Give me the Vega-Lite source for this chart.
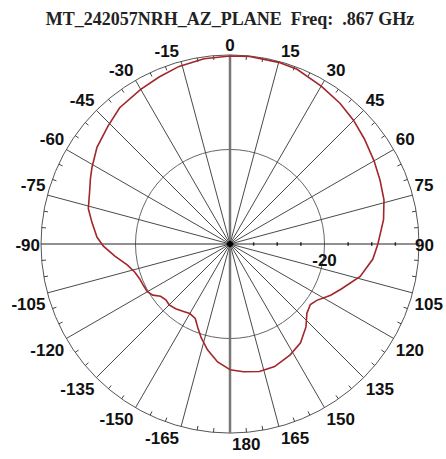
{
  "$schema": "https://vega.github.io/schema/vega-lite/v6.json",
  "width": 378,
  "height": 378,
  "autosize": {"type": "none"},
  "padding": {"left": 41, "top": 55, "right": 27, "bottom": 26},
  "background": "white",
  "config": {"view": {"stroke": null}},
  "title": {
    "text": "MT_242057NRH_AZ_PLANE\u00a0\u00a0Freq:\u00a0\u00a0.867 GHz",
    "font": "Liberation Serif",
    "fontSize": 18,
    "fontWeight": "bold",
    "color": "#222222",
    "anchor": "middle",
    "frame": "group",
    "baseline": "alphabetic",
    "offset": 6,
    "dy": 12
  },
  "datasets": {
    "spokes": [{"a":-165},{"a":-150},{"a":-135},{"a":-120},{"a":-105},{"a":-75},{"a":-60},{"a":-45},{"a":-30},{"a":-15},{"a":15},{"a":30},{"a":45},{"a":60},{"a":75},{"a":105},{"a":120},{"a":135},{"a":150},{"a":165}],
    "ticks": [{"a":-175},{"a":-170},{"a":-160},{"a":-155},{"a":-145},{"a":-140},{"a":-130},{"a":-125},{"a":-115},{"a":-110},{"a":-100},{"a":-95},{"a":-85},{"a":-80},{"a":-70},{"a":-65},{"a":-55},{"a":-50},{"a":-40},{"a":-35},{"a":-25},{"a":-20},{"a":-10},{"a":-5},{"a":5},{"a":10},{"a":20},{"a":25},{"a":35},{"a":40},{"a":50},{"a":55},{"a":65},{"a":70},{"a":80},{"a":85},{"a":95},{"a":100},{"a":110},{"a":115},{"a":125},{"a":130},{"a":140},{"a":145},{"a":155},{"a":160},{"a":170},{"a":175}],
    "labels": [{"a":-165},{"a":-150},{"a":-135},{"a":-120},{"a":-105},{"a":-90},{"a":-75},{"a":-60},{"a":-45},{"a":-30},{"a":-15},{"a":0},{"a":15},{"a":30},{"a":45},{"a":60},{"a":75},{"a":90},{"a":105},{"a":120},{"a":135},{"a":150},{"a":165},{"a":180}],
    "dbticks": [{"r": 5}, {"r": 10}, {"r": 15}, {"r": 25}, {"r": 30}, {"r": 35}],
    "pattern": [
      {"angle":-180,"db":-13.4},{"angle":-174,"db":-14.9},{"angle":-168,"db":-17.1},{"angle":-163,"db":-19.2},
      {"angle":-159,"db":-21.0},{"angle":-155,"db":-22.6},{"angle":-150,"db":-23.0},{"angle":-146,"db":-22.7},
      {"angle":-140,"db":-22.1},{"angle":-135,"db":-21.8},{"angle":-131,"db":-22.0},{"angle":-127,"db":-21.6},
      {"angle":-123.5,"db":-20.4},{"angle":-120,"db":-19.8},{"angle":-116,"db":-19.7},{"angle":-111,"db":-19.5},
      {"angle":-106.5,"db":-19.0},{"angle":-101.5,"db":-17.8},{"angle":-96,"db":-15.5},{"angle":-91,"db":-13.2},
      {"angle":-87,"db":-11.8},{"angle":-81,"db":-10.4},{"angle":-76,"db":-9.1},{"angle":-69,"db":-8.2},
      {"angle":-65,"db":-7.4},{"angle":-61,"db":-6.6},{"angle":-54,"db":-5.2},{"angle":-46,"db":-4.1},
      {"angle":-39,"db":-2.9},{"angle":-30,"db":-2.2},{"angle":-23,"db":-1.6},{"angle":-16,"db":-0.9},
      {"angle":-8,"db":-0.4},{"angle":0,"db":-0.2},{"angle":6,"db":-0.1},{"angle":15,"db":-0.2},
      {"angle":21,"db":-0.4},{"angle":30,"db":-1.4},{"angle":38,"db":-2.2},{"angle":45,"db":-3.0},
      {"angle":52,"db":-3.9},{"angle":60,"db":-4.8},{"angle":67,"db":-5.5},{"angle":74,"db":-6.1},
      {"angle":81,"db":-7.1},{"angle":90,"db":-8.7},{"angle":96,"db":-9.6},{"angle":104,"db":-11.6},
      {"angle":112,"db":-14.6},{"angle":117,"db":-16.1},{"angle":123,"db":-18.1},{"angle":127,"db":-18.7},
      {"angle":132,"db":-18.1},{"angle":137.5,"db":-16.2},{"angle":144.5,"db":-14.3},{"angle":151.5,"db":-13.3},
      {"angle":160,"db":-12.4},{"angle":167,"db":-12.3},{"angle":174,"db":-12.8},{"angle":180,"db":-13.4}
    ]
  },
  "layer": [
    {
      "data": {"values": [{"x": 0, "y": 0}]},
      "mark": {"type": "point", "shape": "circle", "filled": false, "stroke": "#555555", "strokeWidth": 1, "size": 142884, "opacity": 1},
      "encoding": {
        "x": {"field": "x", "type": "quantitative", "scale": {"domain": [-40, 40], "nice": false, "zero": false}, "axis": null},
        "y": {"field": "y", "type": "quantitative", "scale": {"domain": [-40, 40], "nice": false, "zero": false}, "axis": null}
      }
    },
    {
      "data": {"values": [{"x": 0, "y": 0}]},
      "mark": {"type": "point", "shape": "circle", "filled": false, "stroke": "#666666", "strokeWidth": 1, "size": 35721, "opacity": 1},
      "encoding": {
        "x": {"field": "x", "type": "quantitative"},
        "y": {"field": "y", "type": "quantitative"}
      }
    },
    {
      "data": {"name": "spokes"},
      "transform": [
        {"calculate": "0", "as": "x0"},
        {"calculate": "0", "as": "y0"},
        {"calculate": "40*sin(datum.a*PI/180)", "as": "xe"},
        {"calculate": "40*cos(datum.a*PI/180)", "as": "ye"}
      ],
      "mark": {"type": "rule", "color": "#4a4a4a", "strokeWidth": 1},
      "encoding": {
        "x": {"field": "x0", "type": "quantitative"},
        "y": {"field": "y0", "type": "quantitative"},
        "x2": {"field": "xe"},
        "y2": {"field": "ye"}
      }
    },
    {
      "data": {"name": "ticks"},
      "transform": [
        {"calculate": "39.1*sin(datum.a*PI/180)", "as": "xa"},
        {"calculate": "39.1*cos(datum.a*PI/180)", "as": "ya"},
        {"calculate": "40*sin(datum.a*PI/180)", "as": "xb"},
        {"calculate": "40*cos(datum.a*PI/180)", "as": "yb"}
      ],
      "mark": {"type": "rule", "color": "#444444", "strokeWidth": 1},
      "encoding": {
        "x": {"field": "xa", "type": "quantitative"},
        "y": {"field": "ya", "type": "quantitative"},
        "x2": {"field": "xb"},
        "y2": {"field": "yb"}
      }
    },
    {
      "data": {"values": [{"xa": -40, "xb": 40, "y": 0}]},
      "mark": {"type": "rule", "color": "#222222", "strokeWidth": 1},
      "encoding": {
        "x": {"field": "xa", "type": "quantitative"},
        "x2": {"field": "xb"},
        "y": {"field": "y", "type": "quantitative"}
      }
    },
    {
      "data": {"values": [{"ya": -40, "yb": 40, "x": 0}]},
      "mark": {"type": "rule", "color": "#777777", "strokeWidth": 2.5},
      "encoding": {
        "y": {"field": "ya", "type": "quantitative"},
        "y2": {"field": "yb"},
        "x": {"field": "x", "type": "quantitative"}
      }
    },
    {
      "data": {"name": "dbticks"},
      "transform": [
        {"calculate": "-0.35", "as": "t1"},
        {"calculate": "0.35", "as": "t2"}
      ],
      "mark": {"type": "rule", "color": "#222222", "strokeWidth": 1.5},
      "encoding": {
        "x": {"field": "r", "type": "quantitative"},
        "y": {"field": "t1", "type": "quantitative"},
        "y2": {"field": "t2"}
      }
    },
    {
      "data": {"values": [{"x": 0, "y": 0}]},
      "mark": {"type": "point", "shape": "diamond", "filled": true, "color": "#000000", "size": 60, "opacity": 1},
      "encoding": {
        "x": {"field": "x", "type": "quantitative"},
        "y": {"field": "y", "type": "quantitative"}
      }
    },
    {
      "data": {"name": "pattern"},
      "transform": [
        {"calculate": "(datum.db+40)*sin(datum.angle*PI/180)", "as": "px"},
        {"calculate": "(datum.db+40)*cos(datum.angle*PI/180)", "as": "py"}
      ],
      "mark": {"type": "line", "color": "#a3262a", "strokeWidth": 1.6},
      "encoding": {
        "x": {"field": "px", "type": "quantitative"},
        "y": {"field": "py", "type": "quantitative"},
        "order": {"field": "angle", "type": "quantitative"}
      }
    },
    {
      "data": {"name": "labels"},
      "transform": [
        {"filter": "datum.a > 0 && datum.a < 90"},
        {"calculate": "40*sin(datum.a*PI/180)", "as": "lx"},
        {"calculate": "40*cos(datum.a*PI/180)", "as": "ly"},
        {"calculate": "'' + datum.a", "as": "lt"}
      ],
      "mark": {"type": "text", "font": "Liberation Sans", "fontSize": 17, "fontWeight": "bold", "color": "#111111", "align": "left", "baseline": "middle", "dx": 2, "dy": -9.5},
      "encoding": {
        "x": {"field": "lx", "type": "quantitative"},
        "y": {"field": "ly", "type": "quantitative"},
        "text": {"field": "lt", "type": "nominal"}
      }
    },
    {
      "data": {"name": "labels"},
      "transform": [
        {"filter": "datum.a > 90"},
        {"calculate": "40*sin(datum.a*PI/180)", "as": "lx"},
        {"calculate": "40*cos(datum.a*PI/180)", "as": "ly"},
        {"calculate": "'' + datum.a", "as": "lt"}
      ],
      "mark": {"type": "text", "font": "Liberation Sans", "fontSize": 17, "fontWeight": "bold", "color": "#111111", "align": "left", "baseline": "middle", "dx": 2, "dy": 12},
      "encoding": {
        "x": {"field": "lx", "type": "quantitative"},
        "y": {"field": "ly", "type": "quantitative"},
        "text": {"field": "lt", "type": "nominal"}
      }
    },
    {
      "data": {"name": "labels"},
      "transform": [
        {"filter": "datum.a < 0 && datum.a > -90"},
        {"calculate": "40*sin(datum.a*PI/180)", "as": "lx"},
        {"calculate": "40*cos(datum.a*PI/180)", "as": "ly"},
        {"calculate": "'' + datum.a", "as": "lt"}
      ],
      "mark": {"type": "text", "font": "Liberation Sans", "fontSize": 17, "fontWeight": "bold", "color": "#111111", "align": "right", "baseline": "middle", "dx": -2, "dy": -9.5},
      "encoding": {
        "x": {"field": "lx", "type": "quantitative"},
        "y": {"field": "ly", "type": "quantitative"},
        "text": {"field": "lt", "type": "nominal"}
      }
    },
    {
      "data": {"name": "labels"},
      "transform": [
        {"filter": "datum.a < -90"},
        {"calculate": "40*sin(datum.a*PI/180)", "as": "lx"},
        {"calculate": "40*cos(datum.a*PI/180)", "as": "ly"},
        {"calculate": "'' + datum.a", "as": "lt"}
      ],
      "mark": {"type": "text", "font": "Liberation Sans", "fontSize": 17, "fontWeight": "bold", "color": "#111111", "align": "right", "baseline": "middle", "dx": -2, "dy": 12},
      "encoding": {
        "x": {"field": "lx", "type": "quantitative"},
        "y": {"field": "ly", "type": "quantitative"},
        "text": {"field": "lt", "type": "nominal"}
      }
    },
    {
      "data": {"name": "labels"},
      "transform": [
        {"filter": "datum.a == 0"},
        {"calculate": "40*sin(datum.a*PI/180)", "as": "lx"},
        {"calculate": "40*cos(datum.a*PI/180)", "as": "ly"},
        {"calculate": "'' + datum.a", "as": "lt"}
      ],
      "mark": {"type": "text", "font": "Liberation Sans", "fontSize": 17, "fontWeight": "bold", "color": "#111111", "align": "center", "baseline": "middle", "dy": -9},
      "encoding": {
        "x": {"field": "lx", "type": "quantitative"},
        "y": {"field": "ly", "type": "quantitative"},
        "text": {"field": "lt", "type": "nominal"}
      }
    },
    {
      "data": {"name": "labels"},
      "transform": [
        {"filter": "datum.a == 90"},
        {"calculate": "40*sin(datum.a*PI/180)", "as": "lx"},
        {"calculate": "40*cos(datum.a*PI/180)", "as": "ly"},
        {"calculate": "'' + datum.a", "as": "lt"}
      ],
      "mark": {"type": "text", "font": "Liberation Sans", "fontSize": 17, "fontWeight": "bold", "color": "#111111", "align": "left", "baseline": "middle", "dx": -4, "dy": 1.5},
      "encoding": {
        "x": {"field": "lx", "type": "quantitative"},
        "y": {"field": "ly", "type": "quantitative"},
        "text": {"field": "lt", "type": "nominal"}
      }
    },
    {
      "data": {"name": "labels"},
      "transform": [
        {"filter": "datum.a == -90"},
        {"calculate": "40*sin(datum.a*PI/180)", "as": "lx"},
        {"calculate": "40*cos(datum.a*PI/180)", "as": "ly"},
        {"calculate": "'' + datum.a", "as": "lt"}
      ],
      "mark": {"type": "text", "font": "Liberation Sans", "fontSize": 17, "fontWeight": "bold", "color": "#111111", "align": "right", "baseline": "middle", "dx": -1, "dy": 1.5},
      "encoding": {
        "x": {"field": "lx", "type": "quantitative"},
        "y": {"field": "ly", "type": "quantitative"},
        "text": {"field": "lt", "type": "nominal"}
      }
    },
    {
      "data": {"values": [{"x": 20, "y": 0, "t": "-20"}]},
      "mark": {"type": "text", "font": "Liberation Sans", "fontSize": 17, "fontWeight": "bold", "color": "#111111", "align": "center", "baseline": "middle", "dy": 17},
      "encoding": {
        "x": {"field": "x", "type": "quantitative"},
        "y": {"field": "y", "type": "quantitative"},
        "text": {"field": "t", "type": "nominal"}
      }
    }
  ]
}
